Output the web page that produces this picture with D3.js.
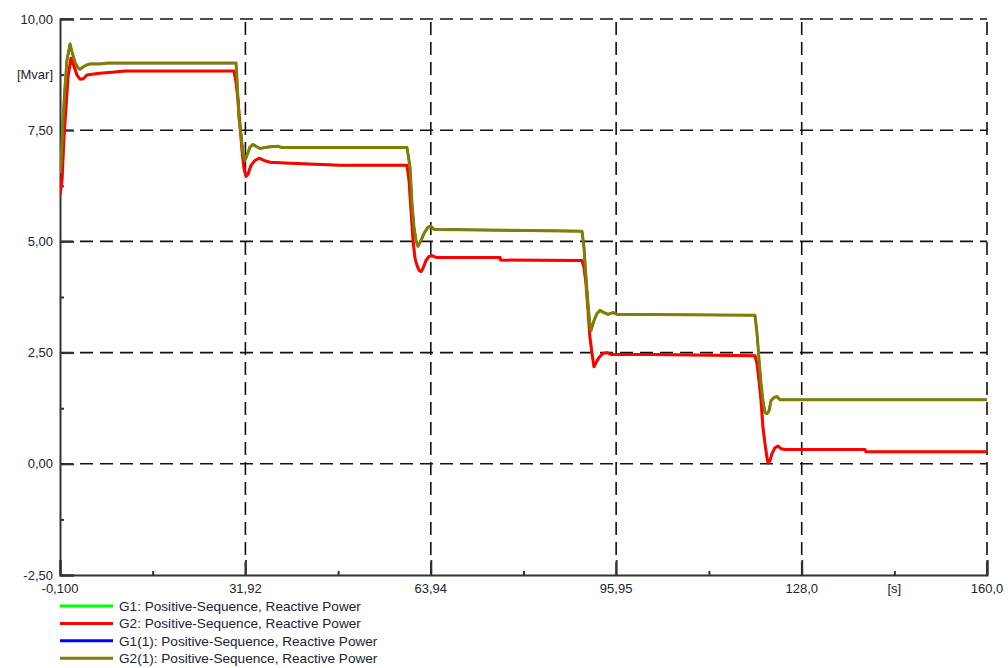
<!DOCTYPE html>
<html>
<head>
<meta charset="utf-8">
<script src="https://cdn.jsdelivr.net/npm/d3@7"></script>
<style>
  html, body { margin: 0; padding: 0; background: #ffffff; }
  svg { display: block; font-family: "Liberation Sans", Arial, sans-serif; }
</style>
</head>
<body>
<svg id="chart" width="1008" height="668"></svg>
<script>
// ---- Data ----
const seriesNames = [
  "G1: Positive-Sequence, Reactive Power",
  "G2: Positive-Sequence, Reactive Power",
  "G1(1): Positive-Sequence, Reactive Power",
  "G2(1): Positive-Sequence, Reactive Power"
];
const seriesColors = ["#00ff00", "#ff0000", "#0000ff", "#808000"];

const xTickValues = [-0.1, 31.92, 63.94, 95.95, 128.0, 160.0];
const xTickLabels = ["-0,100", "31,92", "63,94", "95,95", "128,0", "160,0"];
const xUnitLabel = "[s]";
const yTickValues = [-2.5, 0, 2.5, 5, 7.5, 10];
const yTickLabels = ["-2,50", "0,00", "2,50", "5,00", "7,50", "10,00"];
const yUnitLabel = "[Mvar]";

// G2 (red) time [s] and reactive power [Mvar]
const g2Time = [-0.1, 0.25, 0.59, 0.94, 1.28, 1.80, 2.32, 2.84, 3.35, 3.87, 4.56, 5.43, 6.81, 9.40, 11.13, 29.95,
  30.30, 30.64, 30.99, 31.33, 31.68, 32.02, 32.37, 32.89, 33.58, 34.27, 35.13, 36.17, 38.76, 48.26, 59.83,
  60.18, 60.52, 60.87, 61.21, 61.56, 61.90, 62.25, 62.59, 63.11, 63.63, 64.15, 64.84, 75.90, 76.0, 90.05,
  90.40, 90.74, 91.09, 91.43, 91.78, 92.12, 92.47, 92.99, 93.68, 94.37, 95.06, 101.8, 119.93,
  120.28, 120.62, 120.97, 121.31, 121.66, 122.00, 122.18, 122.52, 122.87, 123.39, 123.90, 124.42, 125.11, 138.93, 139.10, 160.0];
const g2Values = [6.04, 6.37, 7.34, 8.02, 8.69, 9.12, 8.94, 8.74, 8.65, 8.65, 8.74, 8.76, 8.78, 8.81, 8.83, 8.83,
  8.58, 8.18, 7.61, 7.05, 6.64, 6.46, 6.51, 6.71, 6.82, 6.87, 6.82, 6.78, 6.76, 6.71, 6.71,
  6.37, 5.70, 5.02, 4.62, 4.46, 4.35, 4.32, 4.39, 4.57, 4.66, 4.68, 4.64, 4.64, 4.58, 4.57,
  4.41, 4.05, 3.45, 2.84, 2.48, 2.18, 2.27, 2.39, 2.48, 2.50, 2.46, 2.46, 2.43,
  2.25, 1.87, 1.42, 0.81, 0.45, 0.14, 0.02, 0.07, 0.23, 0.36, 0.40, 0.34, 0.32, 0.32, 0.27, 0.27];

// G2(1) (olive) time [s] and reactive power [Mvar]
const g21Time = [-0.1, 0.07, 0.42, 0.76, 1.11, 1.63, 1.97, 2.49, 3.01, 3.35, 3.87, 4.39, 5.08, 6.81, 8.19, 30.30,
  30.47, 30.81, 31.16, 31.51, 31.85, 32.20, 32.71, 33.23, 33.75, 34.44, 35.82, 37.5, 38.2, 59.83,
  60.35, 60.69, 61.04, 61.38, 61.73, 62.25, 62.77, 63.46, 63.97, 64.49, 90.05,
  90.40, 90.74, 91.09, 91.43, 91.61, 92.12, 92.64, 93.16, 93.85, 94.54, 95.41, 96.10, 119.93,
  120.28, 120.62, 120.97, 121.31, 121.66, 122.00, 122.35, 122.70, 123.21, 123.73, 124.25, 160.0];
const g21Values = [6.53, 6.76, 7.73, 8.47, 9.08, 9.44, 9.26, 9.03, 8.90, 8.87, 8.92, 8.96, 8.99, 8.99, 9.01, 9.01,
  8.63, 7.77, 7.39, 6.98, 6.82, 6.94, 7.12, 7.18, 7.14, 7.09, 7.12, 7.14, 7.11, 7.11,
  6.67, 5.86, 5.32, 5.02, 4.89, 5.02, 5.18, 5.32, 5.34, 5.27, 5.23,
  4.86, 4.19, 3.60, 3.11, 3.00, 3.22, 3.38, 3.45, 3.40, 3.36, 3.40, 3.36, 3.34,
  2.93, 2.36, 1.80, 1.42, 1.15, 1.13, 1.19, 1.42, 1.49, 1.51, 1.44, 1.44];

// G1 and G1(1) coincide with G2 and G2(1) (hidden underneath in the reference)
const g1Time = g2Time, g1Values = g2Values;
const g11Time = g21Time, g11Values = g21Values;

// ---- Layout ----
const svg = d3.select("#chart");
const margin = { left: 60, top: 19, right: 21, bottom: 93 };
const W = 1008, H = 668;
const x = d3.scaleLinear().domain([-0.1, 160.0]).range([margin.left, W - margin.right]);
const y = d3.scaleLinear().domain([-2.5, 10]).range([H - margin.bottom, margin.top]);

const textColor = "#23232e";
const x0 = x.range()[0], x1 = x.range()[1];
const yBot = y.range()[0], yTop = y.range()[1];

// Grid (dashed)
const grid = svg.append("g");
yTickValues.filter(v => v > -2.5).forEach(v => {
  grid.append("line").attr("x1", x0).attr("x2", x1).attr("y1", y(v)).attr("y2", y(v))
    .attr("stroke", "#111").attr("stroke-width", 1.6).attr("stroke-dasharray", "13,7");
});
xTickValues.filter(v => v > -0.1).forEach(v => {
  grid.append("line").attr("x1", x(v)).attr("x2", x(v)).attr("y1", yBot).attr("y2", yTop)
    .attr("stroke", "#111").attr("stroke-width", 1.6).attr("stroke-dasharray", "13,7");
});

// Axes
const xMinor = [];
for (let i = 0; i < xTickValues.length - 1; i++) xMinor.push((xTickValues[i] + xTickValues[i + 1]) / 2);
const yMinor = [];
for (let i = 0; i < yTickValues.length - 1; i++) yMinor.push((yTickValues[i] + yTickValues[i + 1]) / 2);

const xAxisG = svg.append("g").attr("transform", `translate(0,${yBot})`)
  .call(d3.axisTop(x).tickValues(xTickValues).tickSize(15).tickFormat(""));
const xMinorG = svg.append("g").attr("transform", `translate(0,${yBot})`)
  .call(d3.axisTop(x).tickValues(xMinor).tickSize(4).tickFormat(""));
const yAxisG = svg.append("g").attr("transform", `translate(${x0},0)`)
  .call(d3.axisRight(y).tickValues(yTickValues).tickSize(14).tickFormat(""));
const yMinorG = svg.append("g").attr("transform", `translate(${x0},0)`)
  .call(d3.axisRight(y).tickValues(yMinor).tickSize(4).tickFormat(""));
[xAxisG, xMinorG, yAxisG, yMinorG].forEach(g => {
  g.selectAll(".domain").attr("stroke", "#333").attr("stroke-width", 2);
  g.selectAll(".tick line").attr("stroke", "#333").attr("stroke-width", 2);
});
xMinorG.select(".domain").remove();
yMinorG.select(".domain").remove();

// Tick labels
const tickFont = 13;
xTickValues.forEach((v, i) => {
  svg.append("text").attr("x", x(v)).attr("y", yBot + 18).attr("text-anchor", "middle")
    .attr("font-size", tickFont).attr("fill", textColor).text(xTickLabels[i]);
});
svg.append("text").attr("x", x(xMinor[xMinor.length - 1])).attr("y", yBot + 18).attr("text-anchor", "middle")
  .attr("font-size", tickFont).attr("fill", textColor).text(xUnitLabel);
yTickValues.forEach((v, i) => {
  svg.append("text").attr("x", 53).attr("y", y(v) + 4.5).attr("text-anchor", "end")
    .attr("font-size", tickFont).attr("fill", textColor).text(yTickLabels[i]);
});
svg.append("text").attr("x", 53).attr("y", y(yMinor[yMinor.length - 1]) + 4.5).attr("text-anchor", "end")
  .attr("font-size", tickFont).attr("fill", textColor).text(yUnitLabel);

// Curves
svg.append("defs").append("clipPath").attr("id", "plotclip")
  .append("rect").attr("x", x0).attr("y", yTop - 3).attr("width", x1 - x0 + 2).attr("height", yBot - yTop + 3);

const series = [
  { t: g1Time, v: g1Values, color: seriesColors[0], w: 2.2 },
  { t: g11Time, v: g11Values, color: seriesColors[2], w: 2.2 },
  { t: g2Time, v: g2Values, color: seriesColors[1], w: 3 },
  { t: g21Time, v: g21Values, color: seriesColors[3], w: 3 }
];
const line = d3.line().x(d => x(d[0])).y(d => y(d[1]));
const curves = svg.append("g").attr("clip-path", "url(#plotclip)");
series.forEach(s => {
  const pts = s.t.map((t, i) => [t, s.v[i]]);
  curves.append("path").datum(pts).attr("d", line)
    .attr("fill", "none").attr("stroke", s.color).attr("stroke-width", s.w)
    .attr("stroke-linejoin", "round").attr("stroke-linecap", "butt");
});

// Legend
const legend = svg.append("g");
seriesNames.forEach((name, i) => {
  const ly = 606 + i * 17.4;
  legend.append("line").attr("x1", 60).attr("x2", 113).attr("y1", ly).attr("y2", ly)
    .attr("stroke", seriesColors[i]).attr("stroke-width", 3);
  legend.append("text").attr("x", 119).attr("y", ly + 5).attr("font-size", 13.6)
    .attr("fill", textColor).text(name);
});
</script>
</body>
</html>
